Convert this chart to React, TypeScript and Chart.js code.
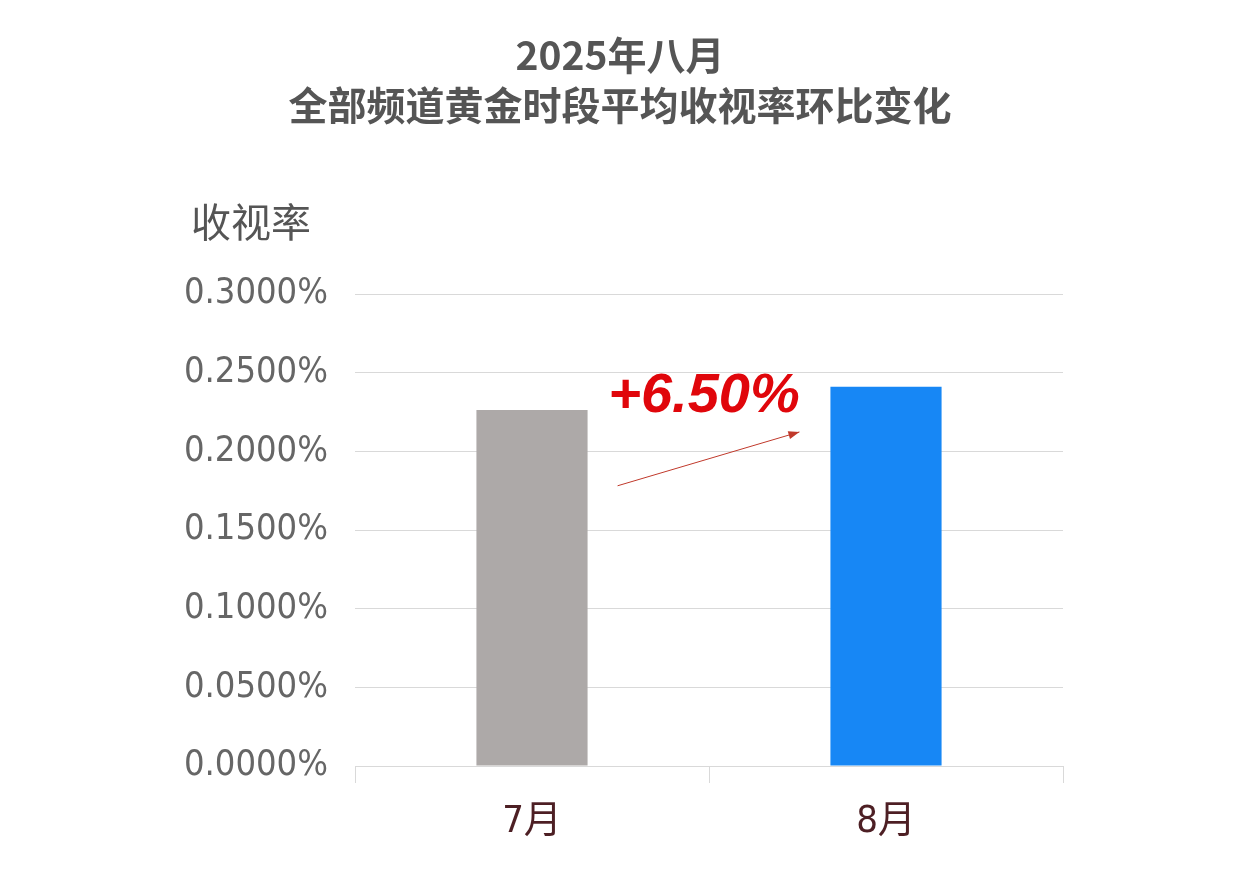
import { useEffect, useRef } from "react";
import { Chart, registerables, Plugin } from "chart.js";

Chart.register(...registerables);

// data
const months = ["7月", "8月"];
const ratings = [0.2263, 0.241]; // percent
const barColors = ["#ada9a8", "#1787f5"];
const changeLabel = "+6.50%";
const titleLines = ["2025年八月", "全部频道黄金时段平均收视率环比变化"];
const yAxisLabel = "收视率";

const NARROW = "'Liberation Sans Narrow', 'DejaVu Sans Condensed', 'Noto Sans CJK SC', sans-serif";
const CJK = "'Noto Sans CJK SC', sans-serif";

const extras: Plugin<"bar"> = {
  id: "extras",
  afterDatasetsDraw(chart) {
    const { ctx, chartArea, scales, width } = chart;
    const y = scales.y;
    const bars = chart.getDatasetMeta(0).data as any[];
    if (bars.length < 2) return;
    ctx.save();

    // title, centred on the whole canvas
    ctx.fillStyle = "#555555";
    ctx.font = `bold 39px ${CJK}`;
    ctx.textAlign = "center";
    ctx.textBaseline = "middle";
    titleLines.forEach((line, i) => ctx.fillText(line, width / 2, 55 + i * 50));

    // vertical axis caption, drawn horizontally
    ctx.font = `40px ${CJK}`;
    ctx.textAlign = "left";
    ctx.fillText(yAxisLabel, chartArea.left - 164, chartArea.top - 72);

    // arrow between bars
    const x0 = bars[0].x + bars[0].width / 2 + 30;
    const y0 = y.getPixelForValue(ratings[0] * 0.787);
    const x1 = bars[1].x - bars[1].width / 2 - 31;
    const y1 = y.getPixelForValue(ratings[1] * 0.881);
    ctx.strokeStyle = "#c0392b";
    ctx.fillStyle = "#c0392b";
    ctx.lineWidth = 1;
    ctx.beginPath();
    ctx.moveTo(x0, y0);
    ctx.lineTo(x1, y1);
    ctx.stroke();
    const ang = Math.atan2(y1 - y0, x1 - x0);
    ctx.beginPath();
    ctx.moveTo(x1, y1);
    ctx.lineTo(x1 - 11 * Math.cos(ang) + 4 * Math.sin(ang), y1 - 11 * Math.sin(ang) - 4 * Math.cos(ang));
    ctx.lineTo(x1 - 11 * Math.cos(ang) - 4 * Math.sin(ang), y1 - 11 * Math.sin(ang) + 4 * Math.cos(ang));
    ctx.closePath();
    ctx.fill();

    // change label
    ctx.fillStyle = "#e0060b";
    ctx.font = "italic bold 56px 'Liberation Sans', sans-serif";
    ctx.textAlign = "center";
    ctx.textBaseline = "middle";
    const mid = (bars[0].x + bars[1].x) / 2 - 5;
    ctx.fillText(changeLabel, mid, y.getPixelForValue(ratings[1] * 0.975));
    ctx.restore();
  },
};

export default function App() {
  const canvasRef = useRef<HTMLCanvasElement>(null);
  const chartRef = useRef<Chart | null>(null);

  useEffect(() => {
    if (!canvasRef.current) return;
    if (chartRef.current) chartRef.current.destroy();

    chartRef.current = new Chart(canvasRef.current, {
      type: "bar",
      data: {
        labels: months,
        datasets: [
          {
            data: ratings,
            backgroundColor: barColors,
            categoryPercentage: 1,
            barPercentage: 0.314,
          },
        ],
      },
      options: {
        animation: false,
        responsive: true,
        maintainAspectRatio: false,
        layout: { padding: { left: 0, right: 177, top: 294, bottom: 0 } },
        plugins: {
          legend: { display: false },
          tooltip: { enabled: false },
          title: { display: false },
        },
        scales: {
          x: {
            grid: {
              offset: true,
              drawOnChartArea: false,
              drawTicks: true,
              tickLength: 17,
              color: "#d9d9d9",
            },
            border: { color: "#d9d9d9" },
            ticks: {
              color: "#4d1f24",
              font: { family: NARROW, size: 38 },
              padding: 16,
            },
            afterFit(scale) {
              scale.height = 129;
            },
          },
          y: {
            min: 0,
            max: 0.3,
            grid: { color: "#d9d9d9", drawTicks: false },
            border: { display: false },
            ticks: {
              stepSize: 0.05,
              color: "#666666",
              padding: 27,
              font: { family: NARROW, size: 36 },
              callback: (v) => Number(v).toFixed(4) + "%",
            },
            afterFit(scale) {
              scale.width = 355;
            },
          },
        },
      },
      plugins: [extras],
    });

    return () => {
      if (chartRef.current) {
        chartRef.current.destroy();
        chartRef.current = null;
      }
    };
  }, []);

  return (
    <div style={{ position: "absolute", left: 0, top: 0, width: 1240, height: 895, background: "#fff" }}>
      <canvas ref={canvasRef} />
    </div>
  );
}
